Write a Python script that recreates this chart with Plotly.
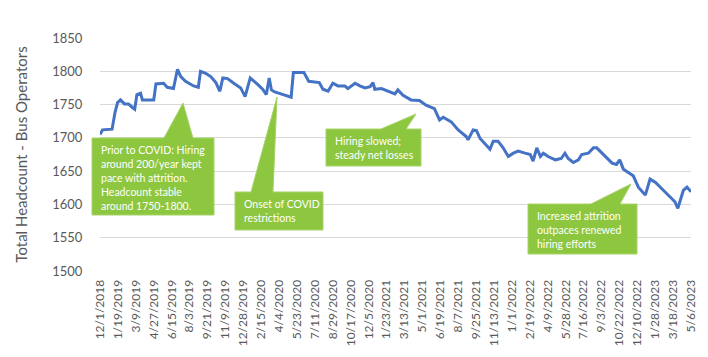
import plotly.graph_objects as go

# ---- data ----
dates = [
    "2018-12-01", "2018-12-08", "2019-01-03", "2019-01-11", "2019-01-18", "2019-01-26",
    "2019-02-06", "2019-02-17", "2019-02-27", "2019-03-06", "2019-03-12", "2019-03-22",
    "2019-03-27", "2019-04-27", "2019-05-03", "2019-05-24", "2019-06-03", "2019-06-20",
    "2019-07-01", "2019-07-10", "2019-07-23", "2019-08-14", "2019-08-27", "2019-09-02",
    "2019-09-16", "2019-09-30", "2019-10-14", "2019-10-25", "2019-11-02", "2019-11-15",
    "2019-12-02", "2019-12-21", "2020-01-02", "2020-01-16", "2020-02-06", "2020-02-19",
    "2020-02-29", "2020-03-08", "2020-03-14", "2020-03-23", "2020-04-09", "2020-04-28",
    "2020-05-07", "2020-05-13", "2020-06-11", "2020-06-24", "2020-07-23", "2020-08-02",
    "2020-08-16", "2020-08-29", "2020-09-12", "2020-10-01", "2020-10-09", "2020-10-29",
    "2020-11-11", "2020-11-25", "2020-12-09", "2020-12-17", "2020-12-22", "2021-01-09",
    "2021-01-27", "2021-02-15", "2021-02-23", "2021-03-09", "2021-03-31", "2021-04-23",
    "2021-05-11", "2021-06-03", "2021-06-17", "2021-06-27", "2021-07-19", "2021-08-07",
    "2021-08-29", "2021-09-03", "2021-09-17", "2021-09-26", "2021-10-06", "2021-10-28",
    "2021-11-02", "2021-11-11", "2021-11-24", "2021-12-08", "2021-12-22", "2022-01-05",
    "2022-01-18", "2022-02-06", "2022-02-20", "2022-02-28", "2022-03-10", "2022-03-20",
    "2022-03-28", "2022-04-10", "2022-04-30", "2022-05-16", "2022-05-26", "2022-06-04",
    "2022-06-18", "2022-07-02", "2022-07-11", "2022-07-29", "2022-08-12", "2022-08-21",
    "2022-09-04", "2022-09-18", "2022-10-02", "2022-10-14", "2022-10-23", "2022-11-02",
    "2022-11-16", "2022-11-29", "2022-12-13", "2022-12-27", "2023-01-01", "2023-01-14",
    "2023-01-29", "2023-02-20", "2023-03-09", "2023-03-23", "2023-03-31", "2023-04-07",
    "2023-04-15", "2023-04-25", "2023-05-06",
]
headcount = [
    1705, 1712, 1713, 1738, 1753, 1757,
    1751, 1751, 1746, 1743, 1765, 1767,
    1757, 1757, 1781, 1782, 1776, 1774,
    1803, 1792, 1785, 1778, 1776, 1800,
    1797, 1792, 1783, 1770, 1790, 1789,
    1782, 1775, 1762, 1790, 1780, 1773,
    1765, 1790, 1772, 1769, 1766, 1762,
    1761, 1798, 1798, 1785, 1783, 1773,
    1770, 1782, 1778, 1778, 1774, 1782,
    1778, 1775, 1777, 1783, 1773, 1774,
    1770, 1766, 1772, 1764, 1757, 1756,
    1749, 1744, 1727, 1731, 1724, 1712,
    1702, 1697, 1712, 1711, 1699, 1687,
    1683, 1695, 1695, 1685, 1672, 1677,
    1680, 1677, 1675, 1665, 1685, 1672,
    1677, 1672, 1667, 1669, 1677, 1669,
    1663, 1667, 1675, 1677, 1685, 1685,
    1677, 1669, 1662, 1660, 1667, 1653,
    1648, 1643, 1626, 1616, 1614, 1638,
    1633, 1621, 1612, 1604, 1594, 1606,
    1621, 1626, 1619,
]

tick_dates = [
    "2018-12-01", "2019-01-19", "2019-03-09", "2019-04-27", "2019-06-15", "2019-08-03",
    "2019-09-21", "2019-11-09", "2019-12-28", "2020-02-15", "2020-04-04", "2020-05-23",
    "2020-07-11", "2020-08-29", "2020-10-17", "2020-12-05", "2021-01-23", "2021-03-13",
    "2021-05-01", "2021-06-19", "2021-08-07", "2021-09-25", "2021-11-13", "2022-01-01",
    "2022-02-19", "2022-04-09", "2022-05-28", "2022-07-16", "2022-09-03", "2022-10-22",
    "2022-12-10", "2023-01-28", "2023-03-18", "2023-05-06",
]
tick_labels = [
    "12/1/2018", "1/19/2019", "3/9/2019", "4/27/2019", "6/15/2019", "8/3/2019",
    "9/21/2019", "11/9/2019", "12/28/2019", "2/15/2020", "4/4/2020", "5/23/2020",
    "7/11/2020", "8/29/2020", "10/17/2020", "12/5/2020", "1/23/2021", "3/13/2021",
    "5/1/2021", "6/19/2021", "8/7/2021", "9/25/2021", "11/13/2021", "1/1/2022",
    "2/19/2022", "4/9/2022", "5/28/2022", "7/16/2022", "9/3/2022", "10/22/2022",
    "12/10/2022", "1/28/2023", "3/18/2023", "5/6/2023",
]
y_ticks = [1500, 1550, 1600, 1650, 1700, 1750, 1800, 1850]

callout_lines = [
    ["Prior to COVID: Hiring", "around 200/year kept", "pace with attrition.",
     "Headcount stable", "around 1750-1800."],
    ["Onset of COVID", "restrictions"],
    ["Hiring slowed;", "steady net losses"],
    ["Increased attrition", "outpaces renewed", "hiring efforts"],
]

# ---- layout geometry (pixels) ----
W, H = 708, 357
L, R, T, B = 92, 25, 30, 94
PW, PH = W - L - R, H - T - B

def px(x):
    return (x - L) / PW

def py(y):
    return (H - B - y) / PH

# callout boxes: (left, top, right, bottom, tri_base_left, tri_base_right, apex_x, apex_y)
callouts = [
    (84, 130, 206, 207, 156, 185, 175, 95),
    (227, 184, 315, 222, 243, 265, 269, 89),
    (318, 121, 413, 158, 373, 398, 408, 106),
    (520, 196, 629, 246, 583, 612, 623, 176),
]

fig = go.Figure()
fig.add_trace(go.Scatter(
    x=dates, y=headcount, mode="lines",
    line=dict(color="#4472C4", width=3),
    hoverinfo="skip", showlegend=False,
))

GREEN = "#8DC63F"
CALLOUT_FONT = "Lato, sans-serif"
LINE_H = 14
shapes = []
annotations = []
for (l, t, r, b, bl, br, ax_, ay_), lines in zip(callouts, callout_lines):
    pts = [(l, t), (bl, t), (ax_, ay_), (br, t), (r, t), (r, b), (l, b)]
    path = "M " + " L ".join(f"{px(x):.5f},{py(y):.5f}" for x, y in pts) + " Z"
    shapes.append(dict(type="path", xref="paper", yref="paper", path=path,
                       fillcolor=GREEN, line=dict(color="#A6D46A", width=1), layer="above"))
    for i, ln in enumerate(lines):
        annotations.append(dict(
            xref="paper", yref="paper", x=px(l + 7), y=py(t + 12 + i * LINE_H),
            xanchor="left", yanchor="middle", align="left", showarrow=False,
            text=ln, font=dict(family=CALLOUT_FONT, size=10.5, color="white"),
        ))

fig.update_layout(
    width=W, height=H,
    margin=dict(l=L, r=R, t=T, b=B, pad=0),
    paper_bgcolor="white", plot_bgcolor="white",
    shapes=shapes, annotations=annotations,
    font=dict(family="Lato, Open Sans, sans-serif", color="#595959"),
    xaxis=dict(
        type="date",
        range=["2018-12-01", "2023-05-06"],
        tickmode="array", tickvals=tick_dates, ticktext=tick_labels,
        tickangle=-90, tickfont=dict(size=12, color="#595959"),
        showgrid=False, zeroline=False, showline=False,
        ticks="outside", ticklen=3, tickcolor="rgba(0,0,0,0)",
    ),
    yaxis=dict(
        range=[1500, 1850], tickmode="array", tickvals=y_ticks,
        tickfont=dict(size=13, color="#595959"),
        showgrid=True, gridcolor="#D9D9D9", gridwidth=1,
        zeroline=False, showline=False,
        ticks="outside", ticklen=14, tickcolor="rgba(0,0,0,0)",
        title=dict(text="Total Headcount - Bus Operators",
                   font=dict(size=15, color="#595959"), standoff=20),
    ),
)

fig.write_html("out.html")
